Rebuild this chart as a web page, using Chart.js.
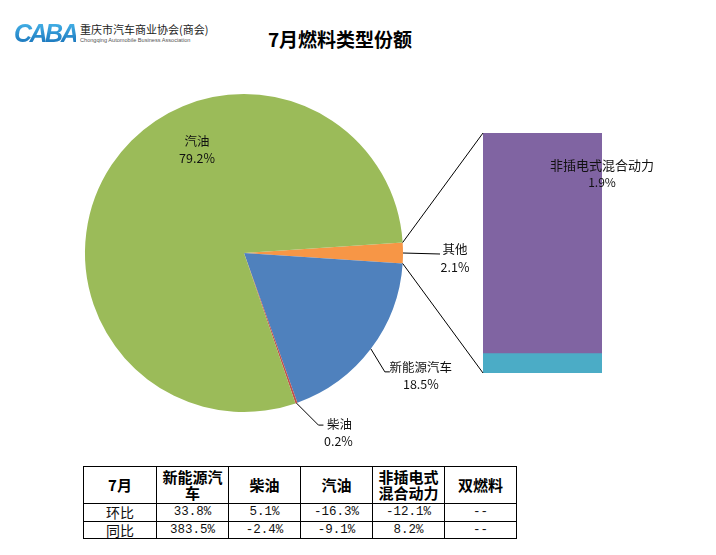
<!DOCTYPE html>
<html><head><meta charset="utf-8">
<script src="https://cdn.jsdelivr.net/npm/chart.js@4/dist/chart.umd.min.js"></script>
<style>
html,body{margin:0;padding:0;background:#fff;}
body{width:716px;height:555px;position:relative;overflow:hidden;font-family:"Noto Sans CJK SC","DejaVu Sans",sans-serif;}
#pie{position:absolute;left:0;top:0;z-index:2;}
#bar{position:absolute;left:470px;top:120px;z-index:1;}
#title{position:absolute;left:240px;width:200px;top:27px;text-align:center;font-weight:bold;font-size:19px;line-height:24px;color:#000;}
#logo{position:absolute;left:14px;top:20px;height:26px;}
#logoMark{position:absolute;left:0;top:0;font-family:"Liberation Sans",sans-serif;font-weight:bold;font-style:italic;font-size:25px;line-height:26px;letter-spacing:-2.5px;color:#1d8fd3;
  background:linear-gradient(180deg,#49b8ec,#1670b8);-webkit-background-clip:text;background-clip:text;-webkit-text-fill-color:transparent;}
#logoCn{position:absolute;left:66px;top:3px;font-size:11px;line-height:13px;color:#222;white-space:nowrap;}
#logoEn{position:absolute;left:66px;top:17px;font-size:5.6px;line-height:7px;color:#555;white-space:nowrap;font-family:"Liberation Sans",sans-serif;}
#tbl{position:absolute;left:83px;top:466px;border-collapse:collapse;table-layout:fixed;width:433px;}
#tbl td,#tbl th{border:1px solid #000;text-align:center;padding:0;}
#tbl th{font-weight:bold;font-size:15px;line-height:16px;height:36px;font-family:"Noto Sans CJK SC",sans-serif;}
#tbl td{font-size:12.5px;line-height:16px;height:16.5px;font-family:"Liberation Mono","DejaVu Sans Mono",monospace;color:#111;}
#tbl td.rh{font-family:"Noto Sans CJK SC",sans-serif;font-size:14px;font-weight:normal;}
</style></head>
<body>
<div id="logo"><div id="logoMark">CABA</div><div id="logoCn">重庆市汽车商业协会(商会)</div><div id="logoEn">Chongqing Automobile Business Association</div></div>
<div id="title">7月燃料类型份额</div>
<canvas id="bar" width="246" height="270"></canvas>
<canvas id="pie" width="716" height="460"></canvas>
<table id="tbl"></table>
<script>
// ---- data ----
const pieLabels = ['其他', '新能源汽车', '柴油', '汽油'];
const pieValues = [2.1, 18.5, 0.2, 79.2];
const barLabels = ['双燃料', '非插电式混合动力'];
const barValues = [0.17, 1.93];
const tableHeadCorner = '7月';
const tableColumns = ['新能源汽车', '柴油', '汽油', '非插电式混合动力', '双燃料'];
const rowNames = ['环比', '同比'];
const momValues = [33.8, 5.1, -16.3, -12.1, null];
const yoyValues = [383.5, -2.4, -9.1, 8.2, null];

// ---- styles ----
const pieColors = ['#F79646', '#4F81BD', '#C0504D', '#9BBB59'];
const barColors = ['#4BACC6', '#8064A2'];
const labelFont = '12.5px "Noto Sans CJK SC", sans-serif';
const pieLabelLayout = [
  {leader: [[37, 1]], text: [52, -4], text2: [52, 14]},
  {leader: [[14, 23], [19, 23]], text: [50, 18], text2: [50, 35]},
  {leader: [[22, 22], [27, 22]], text: [43, 21], text2: [42, 38]},
  {inside: true, text: [-47, -112], text2: [-47, -95]}
];

(function(){
  const t = document.getElementById('tbl');
  let h = '<colgroup><col style="width:73px">' + tableColumns.map(()=>'<col style="width:72px">').join('') + '</colgroup>';
  h += '<tr><th>' + tableHeadCorner + '</th>' + tableColumns.map(c=>'<th>'+c+'</th>').join('') + '</tr>';
  const fmt = v => v === null ? '--' : v.toFixed(1) + '%';
  [momValues, yoyValues].forEach((row, i) => {
    h += '<tr><td class="rh">' + rowNames[i] + '</td>' + row.map(v=>'<td>'+fmt(v)+'</td>').join('') + '</tr>';
  });
  t.innerHTML = h;
})();

const barTotal = barValues.reduce((a,b)=>a+b,0);
const otherTotal = pieValues[0];
const pieTotal = pieValues.reduce((a,b)=>a+b,0);

const barLabelPlugin = {
  id: 'barLabels',
  afterDraw(chart) {
    const ctx = chart.ctx;
    const el = chart.getDatasetMeta(1).data[0];
    const p = el.getProps(['x','y','base','width'], true);
    ctx.save();
    ctx.fillStyle = '#111';
    ctx.font = '13px "Noto Sans CJK SC", sans-serif';
    ctx.textAlign = 'center';
    ctx.textBaseline = 'middle';
    const cx = p.x + p.width/2;
    ctx.fillText(barLabels[1], cx, p.y + 32);
    ctx.font = '12px "Noto Sans CJK SC", sans-serif';
    ctx.fillText(barValues[1].toFixed(1) + '%', cx, p.y + 49);
    ctx.restore();
  }
};

const barChart = new Chart(document.getElementById('bar'), {
  type: 'bar',
  data: {
    labels: [''],
    datasets: barLabels.map((l, i) => ({label: l, data: [barValues[i]], backgroundColor: barColors[i], borderWidth: 0, categoryPercentage: 1, barPercentage: 1}))
  },
  options: {
    responsive: false, animation: false,
    layout: {padding: {left: 13, top: 13, right: 114, bottom: 17}},
    scales: {x: {display: false, stacked: true}, y: {display: false, stacked: true, min: 0, max: barTotal}},
    plugins: {legend: {display: false}, tooltip: {enabled: false}}
  },
  plugins: [barLabelPlugin]
});

const pieLabelPlugin = {
  id: 'pieLabels',
  afterDraw(chart) {
    const ctx = chart.ctx;
    const meta = chart.getDatasetMeta(0);
    ctx.save();
    ctx.strokeStyle = '#000';
    ctx.lineWidth = 1;
    ctx.fillStyle = '#111';
    ctx.font = labelFont;
    ctx.textAlign = 'center';
    ctx.textBaseline = 'middle';
    meta.data.forEach((arc, i) => {
      const a = arc.getProps(['x','y','startAngle','endAngle','outerRadius'], true);
      const lay = pieLabelLayout[i];
      const mid = (a.startAngle + a.endAngle) / 2;
      let bx, by;
      if (lay.inside) { bx = a.x; by = a.y; }
      else {
        bx = a.x + a.outerRadius * Math.cos(mid);
        by = a.y + a.outerRadius * Math.sin(mid);
        ctx.beginPath();
        ctx.moveTo(bx, by);
        lay.leader.forEach(pt => ctx.lineTo(bx + pt[0], by + pt[1]));
        ctx.stroke();
      }
      ctx.fillText(pieLabels[i], bx + lay.text[0], by + lay.text[1]);
      ctx.fillText(pieValues[i].toFixed(1) + '%', bx + lay.text2[0], by + lay.text2[1]);
    });
    const oa = meta.data[0].getProps(['x','y','startAngle','endAngle','outerRadius'], true);
    const pr = chart.canvas.getBoundingClientRect();
    const br = barChart.canvas.getBoundingClientRect();
    const ox = br.left - pr.left, oy = br.top - pr.top;
    const top = barChart.getDatasetMeta(1).data[0].getProps(['x','y','width'], true);
    const bot = barChart.getDatasetMeta(0).data[0].getProps(['x','base','width'], true);
    ctx.beginPath();
    ctx.moveTo(oa.x + oa.outerRadius*Math.cos(oa.startAngle), oa.y + oa.outerRadius*Math.sin(oa.startAngle));
    ctx.lineTo(ox + top.x - top.width/2, oy + top.y);
    ctx.moveTo(oa.x + oa.outerRadius*Math.cos(oa.endAngle), oa.y + oa.outerRadius*Math.sin(oa.endAngle));
    ctx.lineTo(ox + bot.x - bot.width/2, oy + bot.base);
    ctx.stroke();
    ctx.restore();
  }
};

new Chart(document.getElementById('pie'), {
  type: 'pie',
  data: {labels: pieLabels, datasets: [{data: pieValues, backgroundColor: pieColors, borderWidth: 0}]},
  options: {
    responsive: false, animation: false,
    rotation: 90 - (otherTotal / pieTotal * 360) / 2,
    layout: {padding: {left: 85, top: 94, right: 313, bottom: 48}},
    plugins: {legend: {display: false}, tooltip: {enabled: false}}
  },
  plugins: [pieLabelPlugin]
});
</script>
</body></html>
